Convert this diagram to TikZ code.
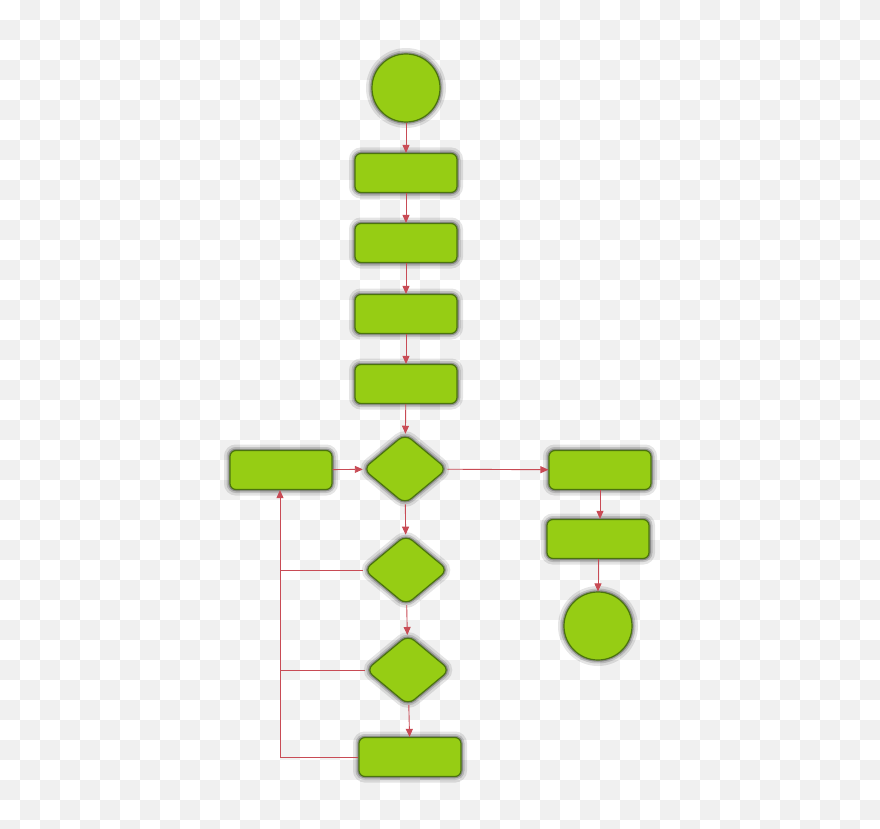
\documentclass[tikz,border=0pt]{standalone}
\usetikzlibrary{shapes.geometric,arrows.meta}
\definecolor{fillg}{RGB}{150,205,20}
\definecolor{edgeg}{RGB}{75,115,15}
\definecolor{arr}{RGB}{200,75,85}
\definecolor{chk}{RGB}{240,240,240}
\begin{document}
\begin{tikzpicture}[x=1pt,y=-1pt,
 base/.style={fill=fillg,draw=edgeg,line width=1.2pt,
   preaction={draw=black,draw opacity=0.1,line width=12pt},
   preaction={draw=black,draw opacity=0.15,line width=7pt},
   preaction={draw=black,draw opacity=0.25,line width=3.5pt}},
 box/.style={base,rounded corners=6pt,minimum width=102pt,minimum height=39pt,inner sep=0pt},
 term/.style={base,circle,minimum size=68pt,inner sep=0pt},
 dec/.style={base,diamond,rounded corners=8pt,minimum width=84pt,minimum height=70pt,inner sep=0pt},
 ar/.style={draw=arr,line width=0.9pt,-{Triangle[length=8pt,width=7pt]}},
 ln/.style={draw=arr,line width=0.9pt}]
\useasboundingbox (0,0) rectangle (880,829);
\fill[white] (0,0) rectangle (880,829);
\foreach \i in {0,...,43}{\foreach \j in {0,...,41}{
 \pgfmathtruncatemacro\p{mod(\i+\j,2)}
 \ifnum\p=1 \fill[chk] (\i*20,\j*20) rectangle ++(20,20);\fi}}
\node[term] (s) at (406,88) {};
\node[box] (b1) at (406,173) {};
\node[box] (b2) at (406,243) {};
\node[box] (b3) at (406,314) {};
\node[box] (b4) at (406,384) {};
\node[dec] (d1) at (405,469) {};
\node[box] (l) at (281,470) {};
\node[box] (r1) at (600,470) {};
\node[box] (r2) at (598,539) {};
\node[term] (e) at (598,626) {};
\node[dec] (d2) at (406,570) {};
\node[dec] (d3) at (408,670) {};
\node[box] (b5) at (410,757) {};
\coordinate (c1) at (280,570);
\coordinate (c2) at (280,670);
\coordinate (c3) at (280,757);
\draw[ar] (s) -- (b1);
\draw[ar] (b1) -- (b2);
\draw[ar] (b2) -- (b3);
\draw[ar] (b3) -- (b4);
\draw[ar] (b4) -- (d1);
\draw[ar] (l) -- (d1);
\draw[ar] (d1) -- (r1);
\draw[ar] (r1) -- (r2.north -| r1);
\draw[ar] (r2) -- (e);
\draw[ar] (d1) -- (d2);
\draw[ar] (d2) -- (d3);
\draw[ar] (d3) -- (b5);
\draw[ln] (d2.west) -- (c1);
\draw[ln] (d3.west) -- (c2);
\draw[ln] (b5.west) -- (c3);
\draw[ar] (c3) -- (l.south -| c3);
\end{tikzpicture}
\end{document}
